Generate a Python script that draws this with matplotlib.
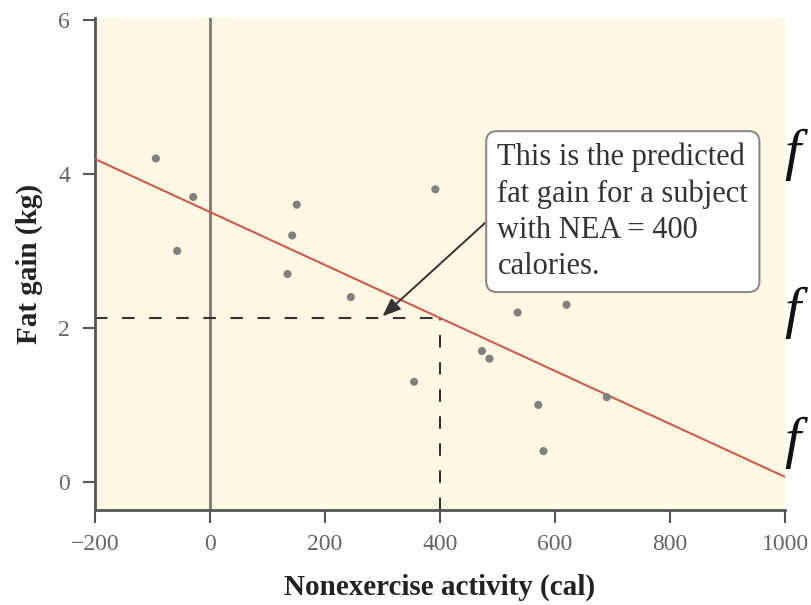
import matplotlib
matplotlib.use("Agg")
import matplotlib.pyplot as plt
import numpy as np

plt.rcParams["font.family"] = ["Liberation Serif", "DejaVu Serif"]

# nonexercise activity (cal) and fat gain (kg) for 16 subjects
nea = [-94, -57, -29, 135, 143, 151, 245, 355, 392, 473, 486, 535, 571, 580, 620, 690]
fat_gain = [4.2, 3.0, 3.7, 2.7, 3.2, 3.6, 2.4, 1.3, 3.8, 1.7, 1.6, 2.2, 1.0, 0.4, 2.3, 1.1]

# least-squares line as printed: y-hat = 3.505 - 0.00344 x
intercept = 3.505
slope = -0.00344
line_x = [-200, 1000]
predict_at = 400

x_ticks = [-200, 0, 200, 400, 600, 800, 1000]
y_ticks = [0, 2, 4, 6]

annotation = "This is the predicted\nfat gain for a subject\nwith NEA = 400\ncalories."

fig = plt.figure(figsize=(8.11, 6.05), dpi=100)
ax = fig.add_axes([0.117, 0.157, 0.851, 0.814])
ax.set_facecolor("#fdf7e4")

ax.set_xlim(-200, 1000)
ax.set_ylim(-0.365, 6.03)

ax.axvline(0, color="#7a7a72", lw=2.0, zorder=1)

lx = np.array(line_x, dtype=float)
ax.plot(lx, intercept + slope * lx, color="#d25a50", lw=1.5, zorder=3)

y_hat = intercept + slope * predict_at
dash = (0, (6, 7))
ax.plot([-200, predict_at], [y_hat, y_hat], color="#333333", lw=1.5, linestyle=dash, zorder=2)
ax.plot([predict_at, predict_at], [-0.365, y_hat], color="#333333", lw=1.5, linestyle=dash, zorder=2)

ax.scatter(nea, fat_gain, s=34, color="#808080", edgecolors="none", zorder=4)

ax.annotate(
    annotation,
    xy=(300, 2.15), xycoords="data",
    xytext=(500, 3.51), textcoords="data",
    ha="left", va="center", fontsize=22, color="#333333", linespacing=1.32,
    bbox=dict(boxstyle="round,pad=0.37,rounding_size=0.35", fc="white", ec="#8a8a8a", lw=1.5),
    arrowprops=dict(arrowstyle="-|>,head_length=0.5,head_width=0.2", color="#333333",
                    lw=1.4, relpos=(0, 0.5), shrinkA=0, shrinkB=0),
    zorder=5,
)

for side in ("top", "right"):
    ax.spines[side].set_visible(False)
for side in ("left", "bottom"):
    ax.spines[side].set_color("#555555")
    ax.spines[side].set_linewidth(2.0)

ax.set_xticks(x_ticks)
ax.set_yticks(y_ticks)
ax.tick_params(axis="both", direction="out", length=9, width=1.5, color="#555555",
               labelcolor="#666666", labelsize=17)
ax.tick_params(axis="x", pad=8)
ax.tick_params(axis="y", pad=9)

ax.set_xlabel("Nonexercise activity (cal)", fontsize=21, fontweight="bold", color="#222222", labelpad=14)
ax.set_ylabel("Fat gain (kg)", fontsize=21, fontweight="bold", color="#222222", labelpad=11)

# cut-off formula glyphs at the right edge of the page
for fy in (0.744, 0.483, 0.268):
    fig.text(0.967, fy, "f", fontsize=42, fontstyle="italic", color="#111111",
             ha="left", va="center")

fig.savefig("out.png", dpi=100)
